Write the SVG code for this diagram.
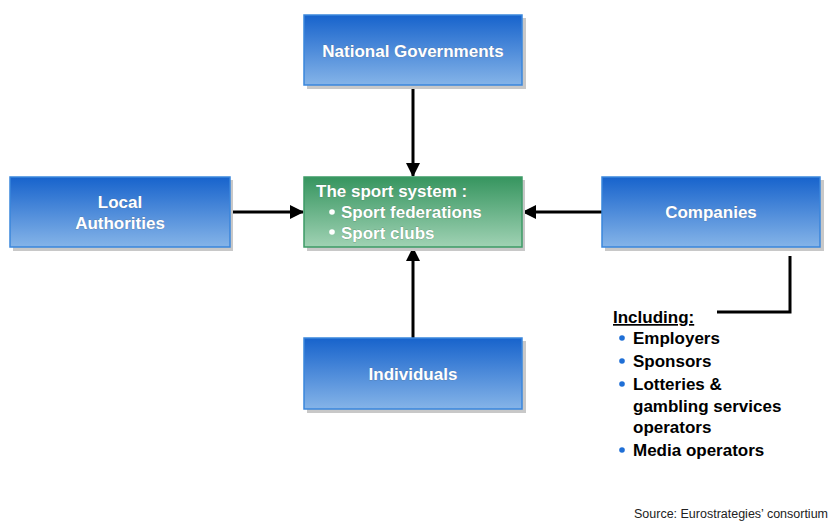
<svg xmlns="http://www.w3.org/2000/svg" width="832" height="524" viewBox="0 0 832 524">
<defs>
<linearGradient id="blue" x1="0" y1="0" x2="0" y2="1">
<stop offset="0" stop-color="#1763cc"/>
<stop offset="1" stop-color="#85b4e8"/>
</linearGradient>
<linearGradient id="green" x1="0" y1="0" x2="0" y2="1">
<stop offset="0" stop-color="#36955f"/>
<stop offset="1" stop-color="#a0d2b4"/>
</linearGradient>
<marker id="arr" markerWidth="14" markerHeight="14" refX="13" refY="7" orient="auto" markerUnits="userSpaceOnUse" viewBox="0 0 14 14">
<path d="M0,0 L14,7 L0,14 z" fill="#000"/>
</marker>
<style>
.shadow{fill:#c8c8c8}
.bbox{fill:url(#blue);stroke:#3a86dc;stroke-width:1.5}
.gbox{fill:url(#green);stroke:#3d9a66;stroke-width:1.5}
.lbl{font-family:"Liberation Sans",Arial,sans-serif;font-weight:bold;font-size:17px;fill:#fff;stroke:#5a6e8a;stroke-width:0.4;paint-order:stroke}
.glbl{font-family:"Liberation Sans",Arial,sans-serif;font-weight:bold;font-size:17px;fill:#fff;stroke:#4a7a5a;stroke-width:0.4;paint-order:stroke}
.blk{font-family:"Liberation Sans",Arial,sans-serif;font-weight:bold;font-size:17px;fill:#000}
.conn{stroke:#000;stroke-width:3;fill:none}
</style>
</defs>
<g id="connectors">
<line class="conn" x1="413" y1="86" x2="413" y2="176" marker-end="url(#arr)"/>
<line class="conn" x1="230" y1="212" x2="303" y2="212" marker-end="url(#arr)"/>
<line class="conn" x1="602" y1="212" x2="523" y2="212" marker-end="url(#arr)"/>
<line class="conn" x1="413" y1="338" x2="413" y2="248" marker-end="url(#arr)"/>
<polyline class="conn" points="790,256 790,312 717,312"/>
</g>
<g id="national-governments">
<rect class="shadow" x="307" y="18" width="219" height="71"/>
<rect class="bbox" x="304" y="15" width="218" height="70"/>
<text class="lbl" x="413" y="57" text-anchor="middle">National Governments</text>
</g>
<g id="local-authorities">
<rect class="shadow" x="13" y="180" width="220" height="71"/>
<rect class="bbox" x="10" y="177" width="220" height="70"/>
<text class="lbl" x="120" y="208" text-anchor="middle">Local</text>
<text class="lbl" x="120" y="229" text-anchor="middle">Authorities</text>
</g>
<g id="sport-system">
<rect class="shadow" x="307" y="180" width="218" height="71"/>
<rect class="gbox" x="304" y="177" width="218" height="70"/>
<text class="glbl" x="316" y="197">The sport system :</text>
<circle cx="332" cy="212" r="2.8" fill="#fff"/>
<text class="glbl" x="341" y="218">Sport federations</text>
<circle cx="332" cy="232" r="2.8" fill="#fff"/>
<text class="glbl" x="341" y="239">Sport clubs</text>
</g>
<g id="companies">
<rect class="shadow" x="605" y="180" width="219" height="71"/>
<rect class="bbox" x="602" y="177" width="218" height="70"/>
<text class="lbl" x="711" y="218" text-anchor="middle">Companies</text>
</g>
<g id="individuals">
<rect class="shadow" x="307" y="341" width="219" height="72"/>
<rect class="bbox" x="304" y="338" width="218" height="71"/>
<text class="lbl" x="413" y="380" text-anchor="middle">Individuals</text>
</g>
<g id="including-list">
<text class="blk" x="613" y="323" text-decoration="underline">Including:</text>
<circle cx="622" cy="338" r="2.8" fill="#1f6fd6"/>
<text class="blk" x="633" y="344">Employers</text>
<circle cx="622" cy="361" r="2.8" fill="#1f6fd6"/>
<text class="blk" x="633" y="367">Sponsors</text>
<circle cx="622" cy="384" r="2.8" fill="#1f6fd6"/>
<text class="blk" x="633" y="390">Lotteries &amp;</text>
<text class="blk" x="633" y="412">gambling services</text>
<text class="blk" x="633" y="433">operators</text>
<circle cx="622" cy="450" r="2.8" fill="#1f6fd6"/>
<text class="blk" x="633" y="456">Media operators</text>
</g>
<text x="634" y="518" font-family="'Liberation Sans',Arial,sans-serif" font-size="12.5" textLength="194" lengthAdjust="spacingAndGlyphs" fill="#222">Source: Eurostrategies’ consortium</text>
</svg>
